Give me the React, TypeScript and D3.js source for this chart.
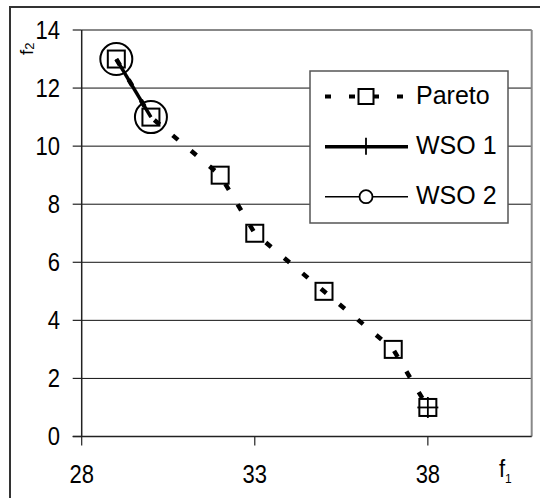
import React from 'react';
import * as d3 from 'd3';

const paretoF1 = [29, 30, 32, 33, 35, 37, 38];
const paretoF2 = [13, 11, 9, 7, 5, 3, 1];
const wso1LineF1 = [29, 30];
const wso1LineF2 = [13, 11];
const wso1MarkF1 = [38];
const wso1MarkF2 = [1];
const wso2F1 = [29, 30];
const wso2F2 = [13, 11];
const xTicks = [28, 33, 38];
const yTicks = [0, 2, 4, 6, 8, 10, 12, 14];
const legendLabels = ['Pareto', 'WSO 1', 'WSO 2'];

const FONT = '"Liberation Sans", Arial, sans-serif';

export default function App() {
  const left = 81.7, right = 531.7, top = 30, bottom = 436.5;
  const x = d3.scaleLinear().domain([28, 41]).range([left, right]);
  const y = d3.scaleLinear().domain([0, 14]).range([bottom, top]);

  const line = d3.line<[number, number]>().x(d => x(d[0])).y(d => y(d[1]));
  const pareto: [number, number][] = paretoF1.map((v, i) => [v, paretoF2[i]]);
  const wso1: [number, number][] = wso1LineF1.map((v, i) => [v, wso1LineF2[i]]);
  const wso1m: [number, number][] = wso1MarkF1.map((v, i) => [v, wso1MarkF2[i]]);
  const wso2: [number, number][] = wso2F1.map((v, i) => [v, wso2F2[i]]);

  const sq = 17;
  const legX1 = 325, legX2 = 408, legMid = 366, legText = 416;
  const legY = [96.5, 146.7, 196.7];

  return (
    <svg width={540} height={498} style={{ position: 'absolute', left: 0, top: 0, background: '#fff' }} fontFamily={FONT}>
      <rect x={0} y={0} width={540} height={498} fill="#fff" />
      <rect x={10} y={7} width={560} height={520} fill="none" stroke="#333" strokeWidth={2} />
      {yTicks.filter(t => t > 0 && t < 14).map(t => (
        <line key={'g' + t} x1={left} x2={right} y1={y(t)} y2={y(t)} stroke="#111" strokeWidth={1} />
      ))}
      <line x1={left} x2={right} y1={top} y2={top} stroke="#888" strokeWidth={2} />
      <line x1={right} x2={right} y1={top} y2={bottom} stroke="#888" strokeWidth={2} />
      <line x1={left} x2={left} y1={top} y2={bottom} stroke="#222" strokeWidth={1.5} />
      <line x1={left - 9} x2={right} y1={bottom} y2={bottom} stroke="#222" strokeWidth={1.5} />
      {yTicks.map(t => (
        <g key={'y' + t}>
          <line x1={left - 9} x2={left} y1={y(t)} y2={y(t)} stroke="#222" strokeWidth={1.2} />
          <text transform={`translate(60,${y(t)}) scale(1,1.13)`} dy="0.36em" textAnchor="end" fontSize={22} fill="#000">{t}</text>
        </g>
      ))}
      {xTicks.map(t => (
        <g key={'x' + t}>
          <line x1={x(t)} x2={x(t)} y1={bottom} y2={bottom + 9} stroke="#222" strokeWidth={1.2} />
          <text transform={`translate(${x(t)},483) scale(1,1.13)`} textAnchor="middle" fontSize={22} fill="#000">{t}</text>
        </g>
      ))}
      <text transform="translate(499,477) scale(1,1.1)" fontSize={22} fill="#000">f<tspan fontSize={12} dy={5}>1</tspan></text>
      <text transform="translate(33,55) rotate(-90)" fontSize={19} fill="#000">f<tspan fontSize={13} dy={1}>2</tspan></text>

      <path d={line(pareto) || ''} fill="none" stroke="#000" strokeWidth={4.5} strokeDasharray="7 17" />
      <path d={line(wso2) || ''} fill="none" stroke="#000" strokeWidth={1.5} />
      <path d={line(wso1) || ''} fill="none" stroke="#000" strokeWidth={3.5} />
      {pareto.map((d, i) => (
        <rect key={'p' + i} x={x(d[0]) - sq / 2} y={y(d[1]) - sq / 2} width={sq} height={sq} fill="none" stroke="#000" strokeWidth={2} />
      ))}
      {wso1m.map((d, i) => (
        <g key={'w1' + i} stroke="#000" strokeWidth={1.8}>
          <line x1={x(d[0]) - 10.5} x2={x(d[0]) + 10.5} y1={y(d[1])} y2={y(d[1])} />
          <line x1={x(d[0])} x2={x(d[0])} y1={y(d[1]) - 10.5} y2={y(d[1]) + 10.5} />
        </g>
      ))}
      {wso2.map((d, i) => (
        <circle key={'w2' + i} cx={x(d[0])} cy={y(d[1])} r={16} fill="none" stroke="#000" strokeWidth={2} />
      ))}

      <rect x={310} y={71} width={198} height={152} fill="#fff" stroke="#555" strokeWidth={1.5} />
      <line x1={legX1} x2={legX2} y1={legY[0]} y2={legY[0]} stroke="#000" strokeWidth={4} strokeDasharray="6 18" />
      <rect x={legMid - 7.5} y={legY[0] - 7.5} width={15} height={15} fill="#fff" stroke="#000" strokeWidth={2} />
      <line x1={legX1} x2={legX2} y1={legY[1]} y2={legY[1]} stroke="#000" strokeWidth={3.5} />
      <line x1={legMid} x2={legMid} y1={legY[1] - 9} y2={legY[1] + 8} stroke="#000" strokeWidth={1.8} />
      <line x1={legX1} x2={legX2} y1={legY[2]} y2={legY[2]} stroke="#000" strokeWidth={1.5} />
      <circle cx={legMid} cy={legY[2]} r={6.5} fill="#fff" stroke="#000" strokeWidth={1.8} />
      {legendLabels.map((l, i) => (
        <text key={l} x={legText} y={legY[i] + 7} fontSize={25} fill="#000">{l}</text>
      ))}
    </svg>
  );
}
